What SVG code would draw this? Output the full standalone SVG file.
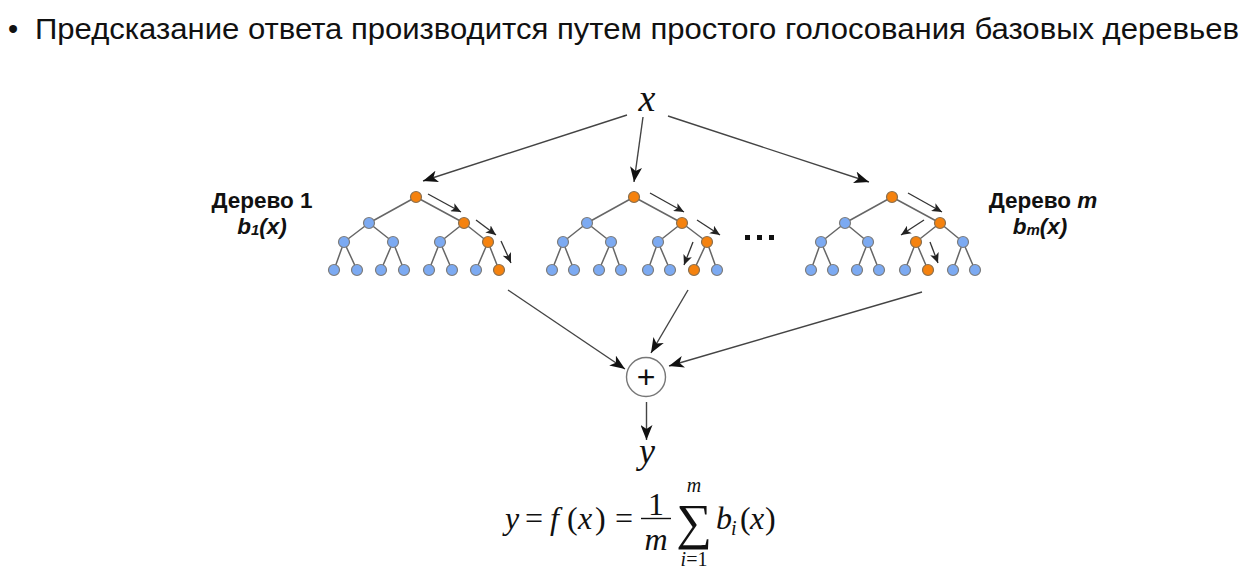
<svg xmlns="http://www.w3.org/2000/svg" width="1260" height="586" viewBox="0 0 1260 586">
  <defs>
    <style>
      .title { font-family: "Liberation Sans", Arial, sans-serif; font-size: 29px; fill: #111; }
      .lbl { font-family: "Liberation Sans", Arial, sans-serif; font-size: 22.5px; font-weight: bold; fill: #111; }
      .math { font-family: "Liberation Serif", "Times New Roman", serif; fill: #111; }
      .it { font-style: italic; }
      .edge { stroke: #666; stroke-width: 1.5; fill: none; }
      .n { fill: #7caaf2; stroke: #7c7c7c; stroke-width: 1.2; }
      .o { fill: #f5820e; stroke: #8a7050; stroke-width: 1.2; }
      .conn { stroke: #444; stroke-width: 1.4; fill: none; marker-end: url(#ah); }
      .step { stroke: #333; stroke-width: 1.3; fill: none; marker-end: url(#ahs); }
    </style>
    <marker id="ah" markerUnits="userSpaceOnUse" markerWidth="16" markerHeight="12" refX="15" refY="6" orient="auto">
      <path d="M0,0 L15,6 L0,12 L4,6 z" fill="#111"/>
    </marker>
    <marker id="ahs" markerUnits="userSpaceOnUse" markerWidth="11" markerHeight="9" refX="10" refY="4.5" orient="auto">
      <path d="M0,0 L10,4.5 L0,9 L2.5,4.5 z" fill="#222"/>
    </marker>
  </defs>

  <rect width="1260" height="586" fill="#fff"/>

  <!-- heading -->
  <text class="title" x="8" y="39">•</text>
  <text class="title" x="35" y="39" textLength="1204" lengthAdjust="spacingAndGlyphs">Предсказание ответа производится путем простого голосования базовых деревьев</text>

  <!-- input / output symbols -->
  <g id="input-x">
    <text class="math it" x="647" y="111" font-size="38" text-anchor="middle">x</text>
  </g>

  <!-- tree 1 -->
  <g id="tree-1">
    <g class="edge">
      <path d="M416,197 L369,223 M416,197 L464,223"/>
      <path d="M369,223 L344,242 M369,223 L393,242 M464,223 L440,242 M464,223 L488,242"/>
      <path d="M344,242 L334,270 M344,242 L357,270 M393,242 L381,270 M393,242 L404,270"/>
      <path d="M440,242 L429,270 M440,242 L452,270 M488,242 L476,270 M488,242 L499,270"/>
    </g>
    <circle class="o" cx="416" cy="197" r="5.5"/>
    <circle class="n" cx="369" cy="223" r="5.5"/>
    <circle class="o" cx="464" cy="223" r="5.5"/>
    <circle class="n" cx="344" cy="242" r="5.5"/>
    <circle class="n" cx="393" cy="242" r="5.5"/>
    <circle class="n" cx="440" cy="242" r="5.5"/>
    <circle class="o" cx="488" cy="242" r="5.5"/>
    <circle class="n" cx="334" cy="270" r="5.5"/>
    <circle class="n" cx="357" cy="270" r="5.5"/>
    <circle class="n" cx="381" cy="270" r="5.5"/>
    <circle class="n" cx="404" cy="270" r="5.5"/>
    <circle class="n" cx="429" cy="270" r="5.5"/>
    <circle class="n" cx="452" cy="270" r="5.5"/>
    <circle class="n" cx="476" cy="270" r="5.5"/>
    <circle class="o" cx="499" cy="270" r="5.5"/>
    <path class="step" d="M428,194 L461,212"/>
    <path class="step" d="M476,220 L496,235"/>
    <path class="step" d="M501,241 L511,263"/>
    <text class="lbl" x="262" y="208" text-anchor="middle">Дерево 1</text>
    <text class="lbl" x="262" y="234" text-anchor="middle" font-style="italic">b<tspan font-size="15" dy="1">1</tspan><tspan dy="-1">(x)</tspan></text>
  </g>

  <!-- tree 2 -->
  <g id="tree-2">
    <g class="edge">
      <path d="M634,197 L587,223 M634,197 L682,223"/>
      <path d="M587,223 L563,242 M587,223 L611,242 M682,223 L658,242 M682,223 L707,242"/>
      <path d="M563,242 L552,270 M563,242 L574,270 M611,242 L599,270 M611,242 L621,270"/>
      <path d="M658,242 L648,270 M658,242 L670,270 M707,242 L694,270 M707,242 L717,270"/>
    </g>
    <circle class="o" cx="634" cy="197" r="5.5"/>
    <circle class="n" cx="587" cy="223" r="5.5"/>
    <circle class="o" cx="682" cy="223" r="5.5"/>
    <circle class="n" cx="563" cy="242" r="5.5"/>
    <circle class="n" cx="611" cy="242" r="5.5"/>
    <circle class="n" cx="658" cy="242" r="5.5"/>
    <circle class="o" cx="707" cy="242" r="5.5"/>
    <circle class="n" cx="552" cy="270" r="5.5"/>
    <circle class="n" cx="574" cy="270" r="5.5"/>
    <circle class="n" cx="599" cy="270" r="5.5"/>
    <circle class="n" cx="621" cy="270" r="5.5"/>
    <circle class="n" cx="648" cy="270" r="5.5"/>
    <circle class="n" cx="670" cy="270" r="5.5"/>
    <circle class="o" cx="694" cy="270" r="5.5"/>
    <circle class="n" cx="717" cy="270" r="5.5"/>
    <path class="step" d="M650,193 L684,212"/>
    <path class="step" d="M697,220 L720,235"/>
    <path class="step" d="M693,242 L684,265"/>
  </g>

  <!-- gap marker between trees -->
  <g id="ellipsis" fill="#111">
    <rect x="745" y="235" width="5" height="5"/>
    <rect x="757" y="235" width="5" height="5"/>
    <rect x="769" y="235" width="5" height="5"/>
  </g>

  <!-- tree m -->
  <g id="tree-m">
    <g class="edge">
      <path d="M892,197 L845,223 M892,197 L940,223"/>
      <path d="M845,223 L821,242 M845,223 L868,242 M940,223 L916,242 M940,223 L963,242"/>
      <path d="M821,242 L811,270 M821,242 L833,270 M868,242 L857,270 M868,242 L879,270"/>
      <path d="M916,242 L905,270 M916,242 L928,270 M963,242 L953,270 M963,242 L975,270"/>
    </g>
    <circle class="o" cx="892" cy="197" r="5.5"/>
    <circle class="n" cx="845" cy="223" r="5.5"/>
    <circle class="o" cx="940" cy="223" r="5.5"/>
    <circle class="n" cx="821" cy="242" r="5.5"/>
    <circle class="n" cx="868" cy="242" r="5.5"/>
    <circle class="o" cx="916" cy="242" r="5.5"/>
    <circle class="n" cx="963" cy="242" r="5.5"/>
    <circle class="n" cx="811" cy="270" r="5.5"/>
    <circle class="n" cx="833" cy="270" r="5.5"/>
    <circle class="n" cx="857" cy="270" r="5.5"/>
    <circle class="n" cx="879" cy="270" r="5.5"/>
    <circle class="n" cx="905" cy="270" r="5.5"/>
    <circle class="o" cx="928" cy="270" r="5.5"/>
    <circle class="n" cx="953" cy="270" r="5.5"/>
    <circle class="n" cx="975" cy="270" r="5.5"/>
    <path class="step" d="M908,193 L942,212"/>
    <path class="step" d="M924,220 L901,235"/>
    <path class="step" d="M930,242 L938,263"/>
    <text class="lbl" x="1043" y="208" text-anchor="middle">Дерево <tspan font-style="italic">m</tspan></text>
    <text class="lbl" x="1040" y="234" text-anchor="middle" font-style="italic">b<tspan font-size="15" dy="1">m</tspan><tspan dy="-1">(x)</tspan></text>
  </g>

  <!-- summation node -->
  <g id="sum">
    <circle cx="646" cy="377" r="19.5" fill="#fff" stroke="#777" stroke-width="1.4"/>
    <text x="646" y="388" font-family="Liberation Sans, Arial, sans-serif" font-size="32" text-anchor="middle" fill="#111">+</text>
  </g>

  <g id="output-y">
    <text class="math it" x="647" y="463" font-size="36" text-anchor="middle">y</text>
  </g>

  <!-- connectors -->
  <g id="connectors">
    <path class="conn" d="M627,115 L423,181"/>
    <path class="conn" d="M643,117 L634,182"/>
    <path class="conn" d="M668,116 L869,182"/>
    <path class="conn" d="M508,290 L625,369"/>
    <path class="conn" d="M688,290 L651,353"/>
    <path class="conn" d="M922,292 L669,366"/>
    <path class="conn" d="M646.5,402 L646.5,440"/>
  </g>

  <!-- averaging formula -->
  <g id="formula" class="math" font-size="32">
    <text y="529"><tspan x="505" class="it">y</tspan><tspan x="525">=</tspan><tspan x="550" class="it">f</tspan><tspan x="567">(</tspan><tspan x="578" class="it">x</tspan><tspan x="595">)</tspan><tspan x="615">=</tspan></text>
    <text x="656" y="515" text-anchor="middle">1</text>
    <line x1="641" y1="518.5" x2="671" y2="518.5" stroke="#111" stroke-width="1.4"/>
    <text x="656" y="550" text-anchor="middle" class="it">m</text>
    <text x="694" y="539" text-anchor="middle" font-size="50">∑</text>
    <text x="694" y="492" text-anchor="middle" font-size="20" class="it">m</text>
    <text x="694" y="566" text-anchor="middle" font-size="20"><tspan class="it">i</tspan>=1</text>
    <text y="529"><tspan x="716" class="it">b</tspan><tspan x="731" class="it" font-size="20" dy="6">i</tspan><tspan x="740" dy="-6">(</tspan><tspan x="750" class="it">x</tspan><tspan x="765">)</tspan></text>
  </g>
</svg>
